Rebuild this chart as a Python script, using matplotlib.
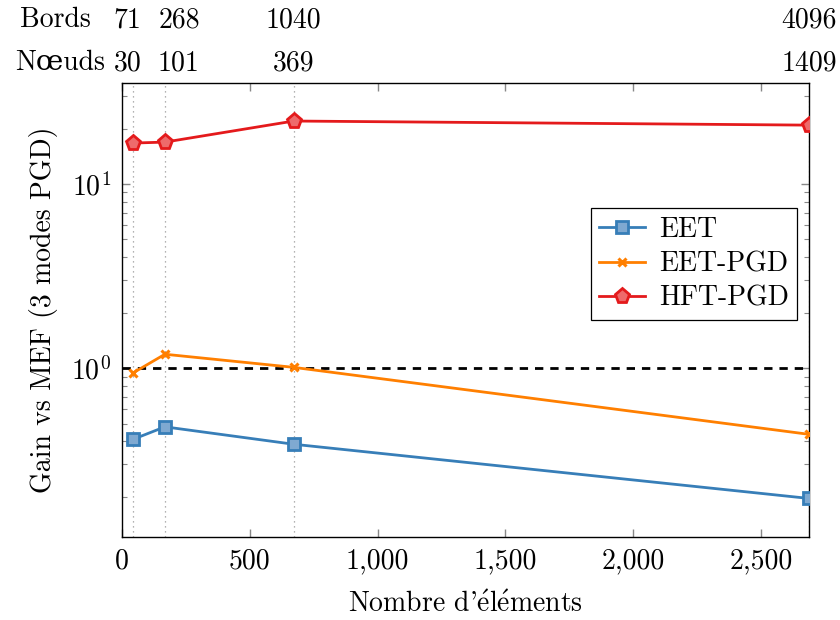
import numpy as np
import matplotlib.pyplot as plt
from matplotlib.ticker import FuncFormatter, MultipleLocator, LogLocator

plt.rcParams['font.family'] = ['cmr10', 'DejaVu Serif']
plt.rcParams['mathtext.fontset'] = 'cm'
plt.rcParams['axes.formatter.use_mathtext'] = True
plt.rcParams['font.size'] = 20

# data
elements = [42, 168, 672, 2688]
bords = ['71', '268', '1040', '4096']
noeuds = ['30', '101', '369', '1409']
eet = [0.41, 0.48, 0.386, 0.196]
eet_pgd = [0.94, 1.19, 1.01, 0.437]
hft_pgd = [16.7, 16.9, 22.0, 20.9]

blue = '#377eb8'
orange = '#ff7f00'
red = '#e41a1c'

fig, ax = plt.subplots(figsize=(8.4, 6.2), dpi=100)
fig.subplots_adjust(left=122/840, right=809/840, top=1-83/620, bottom=1-537/620)

# vertical guides at data positions
for x in elements:
    ax.axvline(x, color='#999999', linestyle=(0, (1, 3)), linewidth=0.9, zorder=1)

ax.axhline(1.0, color='black', linestyle=(0, (3, 2.5)), linewidth=2.0, zorder=2)

ax.plot(elements, eet, color=blue, linewidth=2.0, marker='s', markersize=9,
        markerfacecolor='#7fa9d1', markeredgecolor=blue, markeredgewidth=2.0,
        label='EET', zorder=3)
ax.plot(elements, eet_pgd, color=orange, linewidth=2.0, marker='x', markersize=6,
        markeredgewidth=2.2, label='EET-PGD', zorder=3)
ax.plot(elements, hft_pgd, color=red, linewidth=2.0, marker='p', markersize=11,
        markerfacecolor='#ee6a6b', markeredgecolor=red, markeredgewidth=2.0,
        label='HFT-PGD', zorder=3)

ax.set_yscale('log')
ax.set_xlim(0, 2688)
ax.set_ylim(0.121, 35.4)

ax.xaxis.set_major_locator(MultipleLocator(500))
ax.xaxis.set_major_formatter(FuncFormatter(lambda v, p: f'{v:,.0f}'))
ax.yaxis.set_major_locator(LogLocator(base=10, numticks=10))
ax.yaxis.set_minor_locator(LogLocator(base=10, subs=np.arange(2, 10), numticks=20))

ax.tick_params(which='both', direction='in', top=True, right=True, color='#888888')
ax.tick_params(which='major', length=6, width=1.0, pad=8)
ax.tick_params(which='minor', length=3.5, width=0.8)
for s in ax.spines.values():
    s.set_linewidth(1.0)

ax.set_xlabel("Nombre d'$\\acute{\\mathrm{e}}$l$\\acute{\\mathrm{e}}$ments", labelpad=12)
ax.set_ylabel('Gain vs MEF (3 modes PGD)', labelpad=9)

leg = ax.legend(loc='center right', bbox_to_anchor=(0.9825, 0.601), frameon=True,
                fancybox=False, edgecolor='black', framealpha=1, handlelength=1.65,
                borderpad=0.3, labelspacing=0.3, handletextpad=0.5, borderaxespad=0)
leg.get_frame().set_linewidth(0.9)

# top rows: edges and nodes counts
shifts = [-5, 14, 0, 0]
tr = ax.get_xaxis_transform()
for x, b, n, dx in zip(elements, bords, noeuds, shifts):
    ax.annotate(b, xy=(x, 1), xycoords=tr, xytext=(dx, 63), textcoords='offset pixels',
                ha='center', va='center', annotation_clip=False)
    ax.annotate(n, xy=(x, 1), xycoords=tr, xytext=(dx, 20), textcoords='offset pixels',
                ha='center', va='center', annotation_clip=False)
ax.annotate('Bords', xy=(0, 1), xycoords='axes fraction', xytext=(-67, 63),
            textcoords='offset pixels', ha='center', va='center')
ax.annotate('N\u0153uds', xy=(0, 1), xycoords='axes fraction', xytext=(-62, 20),
            textcoords='offset pixels', ha='center', va='center')

fig.savefig('out.png', dpi=100)
